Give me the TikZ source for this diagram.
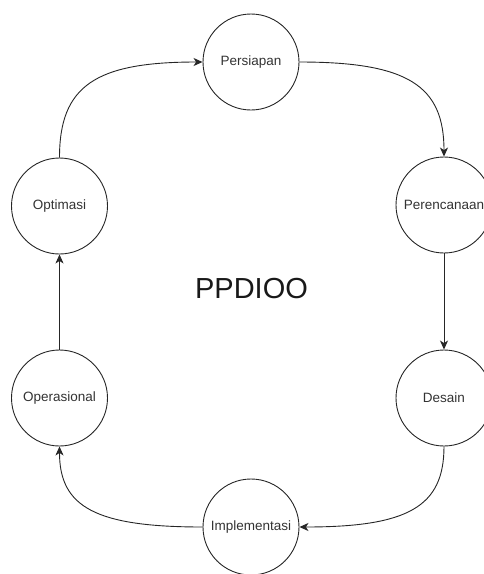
\documentclass[tikz,border=0pt]{standalone}
\usepackage{fontspec}
\setmainfont{Liberation Sans}
\usetikzlibrary{arrows.meta,calc}
\begin{document}
\begin{tikzpicture}[x=1pt,y=-1pt,
  stage/.style={circle,draw=black!85,line width=0.9pt,minimum size=96pt,inner sep=0pt,
    font=\fontsize{13.5}{16}\selectfont,text=black!80},
  flow/.style={draw=black!85,line width=0.9pt,-{Stealth[length=9pt,width=8pt,inset=2.5pt]}},
  title/.style={font=\fontsize{29}{34}\selectfont,text=black!90,inner sep=0pt}]
\useasboundingbox (0,0) rectangle (483,574);
\node[stage] (per) at (251,62) {Persiapan};
\node[stage] (pla) at (444,205) {Perencanaan};
\node[stage] (des) at (444,398) {Desain};
\node[stage] (imp) at (251,527) {Implementasi};
\node[stage] (ope) at (59.5,398) {Operasional};
\node[stage] (opt) at (59.5,206) {Optimasi};
\node[title] (ttl) at (251.5,289) {PPDIOO};
\coordinate (c1) at (per.east -| pla.north);
\coordinate (c2) at (des.south |- imp.east);
\coordinate (c3) at (imp.west -| ope.south);
\coordinate (c4) at (opt.north |- per.west);
\draw[flow] (per.east) .. controls ($(per.east)!0.75!(c1)$) and ($(pla.north)!0.75!(c1)$) .. (pla.north);
\draw[flow] (pla.south) -- (des.north);
\draw[flow] (des.south) .. controls ($(des.south)!0.75!(c2)$) and ($(imp.east)!0.75!(c2)$) .. (imp.east);
\draw[flow] (imp.west) .. controls ($(imp.west)!0.75!(c3)$) and ($(ope.south)!0.75!(c3)$) .. (ope.south);
\draw[flow] (ope.north) -- (opt.south);
\draw[flow] (opt.north) .. controls ($(opt.north)!0.75!(c4)$) and ($(per.west)!0.75!(c4)$) .. (per.west);
\end{tikzpicture}
\end{document}
